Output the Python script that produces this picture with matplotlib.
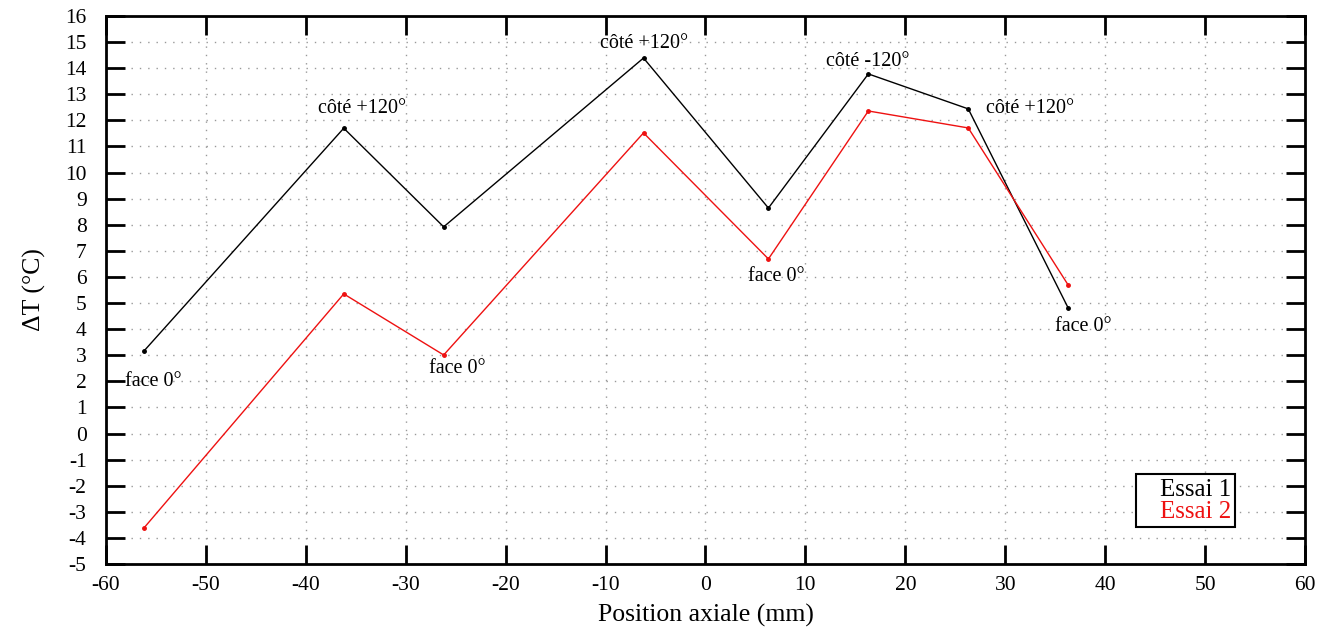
import matplotlib
matplotlib.use("Agg")
import matplotlib.pyplot as plt

position = [-56.2, -36.2, -26.2, -6.2, 6.3, 16.3, 26.3, 36.3]
essai1 = [3.16, 11.7, 7.92, 14.39, 8.64, 13.78, 12.44, 4.81]
essai2 = [-3.62, 5.35, 3.01, 11.52, 6.69, 12.36, 11.71, 5.69]

annot_text = ["face 0°", "côté +120°", "face 0°", "côté +120°", "face 0°",
              "côté -120°", "côté +120°", "face 0°"]
annot_pos = [(-55.3, 2.0), (-34.4, 12.45), (-24.8, 2.5), (-6.1, 14.95), (7.1, 6.0),
             (16.2, 14.25), (32.5, 12.45), (37.8, 4.1)]

xticks = list(range(-60, 61, 10))
yticks = list(range(-5, 17, 1))

plt.rcParams['font.family'] = ['Liberation Serif', 'DejaVu Serif']

fig = plt.figure(figsize=(13.36, 6.32), dpi=100)
ax = fig.add_axes([0.0793, 0.1076, 0.8975, 0.8671])

ax.plot(position, essai1, color='black', lw=1.0, marker='o', ms=2.5, label='Essai 1')
ax.plot(position, essai2, color='#ee1111', lw=1.0, marker='o', ms=2.5, label='Essai 2')

for t, (x, y) in zip(annot_text, annot_pos):
    ax.text(x, y, t, ha='center', va='center', fontsize=14.5)

ax.set_xlim(-60, 60)
ax.set_ylim(-5, 16)
ax.set_xticks(xticks)
ax.set_yticks(yticks)
ax.set_xticklabels([str(v) for v in xticks])
ax.set_yticklabels([str(v) for v in yticks])
ax.tick_params(direction='in', length=14, width=2, top=True, right=True,
               labelsize=15.5, pad=9)
ax.tick_params(axis='y', pad=14)
ax.grid(True, linestyle=(0, (1, 5)), color='#999999', lw=1.0)
for s in ax.spines.values():
    s.set_linewidth(2)

ax.set_xlabel('Position axiale (mm)', fontsize=18.5, labelpad=6)
ax.set_ylabel('ΔT (°C)', fontsize=18.5, labelpad=14)

leg = ax.legend(loc='lower right', bbox_to_anchor=(0.952, 0.045), handlelength=0.8,
                handletextpad=0, fontsize=18, fancybox=False, framealpha=1,
                edgecolor='black', labelcolor='linecolor', alignment='right',
                borderpad=0.15, labelspacing=0.0, markerscale=0)
leg.get_frame().set_linewidth(1.5)
for h in leg.legend_handles:
    h.set_visible(False)
for t in leg.get_texts():
    t.set_ha('right')

fig.savefig('out.png', dpi=100)
